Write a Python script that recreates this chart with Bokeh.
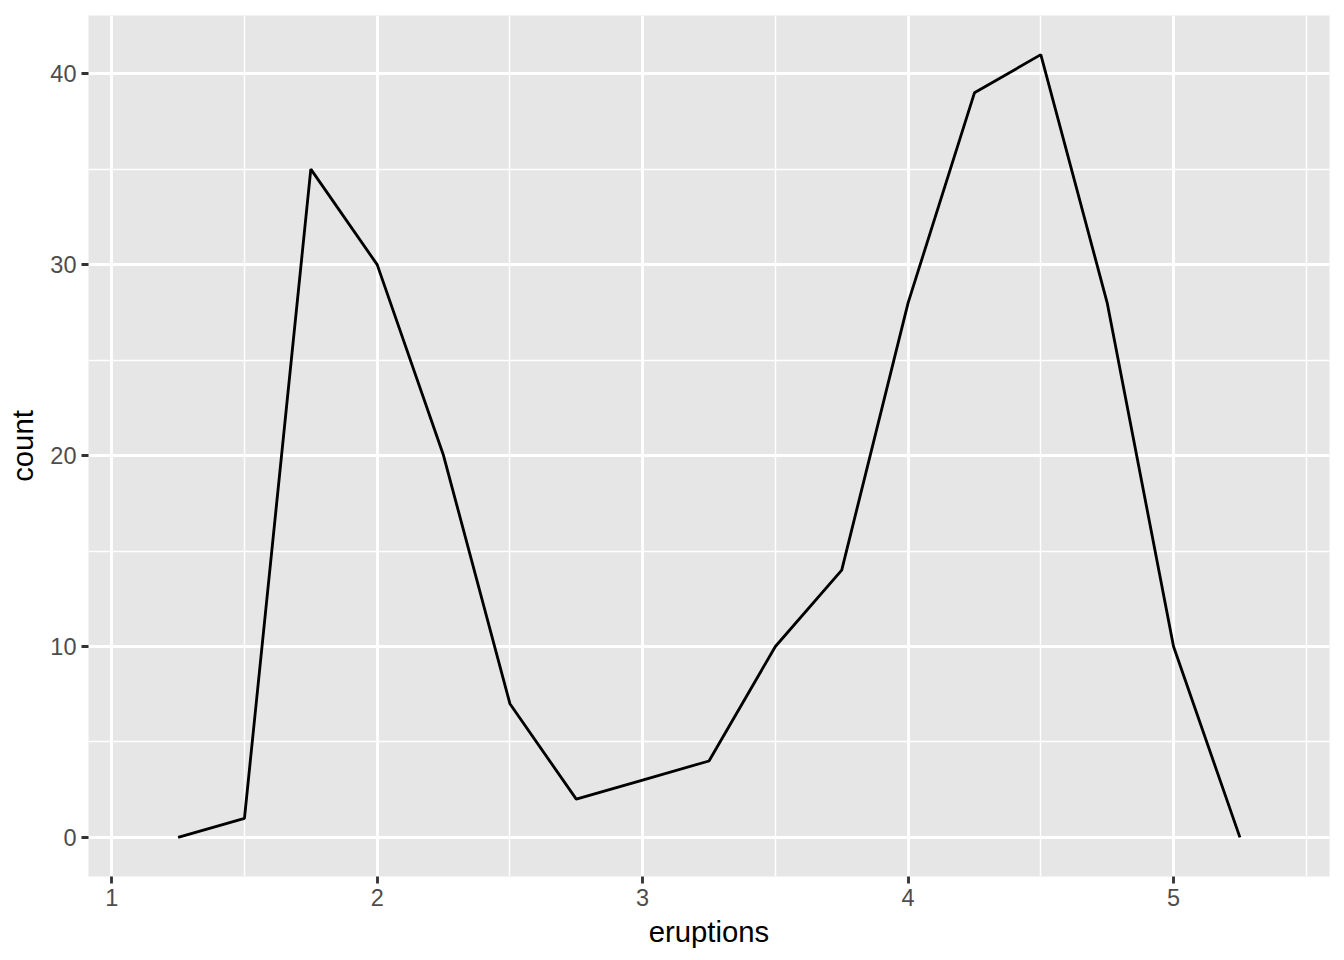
from bokeh.plotting import figure
from bokeh.models import Range1d, FixedTicker
from bokeh.embed import file_html
from bokeh.resources import INLINE

# Data: frequency polygon (binwidth 0.25)
eruptions = [1.25, 1.5, 1.75, 2.0, 2.25, 2.5, 2.75, 3.0, 3.25, 3.5, 3.75, 4.0, 4.25, 4.5, 4.75, 5.0, 5.25]
count = [0, 1, 35, 30, 20, 7, 2, 3, 4, 10, 14, 28, 39, 41, 28, 10, 0]
x_ticks = [1, 2, 3, 4, 5]
x_minor = [1.5, 2.5, 3.5, 4.5, 5.5]
y_ticks = [0, 10, 20, 30, 40]
y_minor = [5, 15, 25, 35]

p = figure(width=1336, height=952, output_backend="svg", toolbar_location=None,
           x_range=Range1d(0.9125, 5.5875), y_range=Range1d(-2.05, 43.05),
           min_border_left=88, min_border_right=7, min_border_top=15, min_border_bottom=76)

p.background_fill_color = "#E6E6E6"
p.border_fill_color = "white"
p.outline_line_color = None

p.line(eruptions, count, line_color="black", line_width=2.84)

p.xaxis.ticker = FixedTicker(ticks=x_ticks, minor_ticks=x_minor)
p.yaxis.ticker = FixedTicker(ticks=y_ticks, minor_ticks=y_minor)

for g in (p.xgrid, p.ygrid):
    g.grid_line_color = "white"
    g.grid_line_width = 2.84
    g.minor_grid_line_color = "white"
    g.minor_grid_line_width = 1.42

for ax in (p.xaxis, p.yaxis):
    ax.axis_line_color = None
    ax.major_tick_line_color = "#333333"
    ax.major_tick_line_width = 2.84
    ax.major_tick_out = 7
    ax.major_tick_in = 0
    ax.minor_tick_line_color = None
    ax.major_label_text_font = "Liberation Sans"
    ax.major_label_text_font_size = "23.5px"
    ax.major_label_text_color = "#4D4D4D"
    ax.axis_label_text_font = "Liberation Sans"
    ax.axis_label_text_font_size = "29.3px"
    ax.axis_label_text_font_style = "normal"
    ax.axis_label_text_color = "black"

p.xaxis.axis_label = "eruptions"
p.yaxis.axis_label = "count"
p.xaxis.major_label_standoff = 5
p.yaxis.major_label_standoff = 5
p.xaxis.axis_label_standoff = 6
p.yaxis.axis_label_standoff = 8

open("out.html", "w").write(file_html(p, INLINE))
